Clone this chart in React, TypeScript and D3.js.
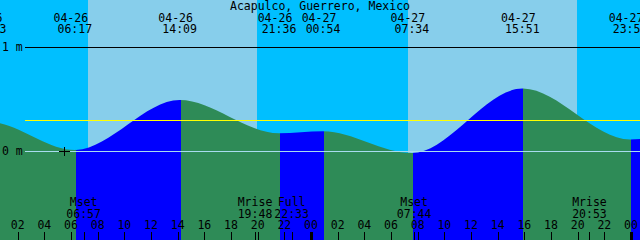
import React from "react";
import * as d3 from "d3";

const TITLE = "Acapulco, Guerrero, Mexico";

// Tide extremes: hours since 04-26 00:00, height in metres
const tideHours = [-6.6, -0.15, 6.283, 14.15, 21.6, 24.9, 31.567, 39.85, 47.93, 54.5];
const tideHeights = [0.1, 0.28, 0.01, 0.49, 0.17, 0.19, -0.02, 0.6, 0.11, 0.35];
const tideDates = ["04-25", "04-26", "04-26", "04-26", "04-26", "04-27", "04-27", "04-27", "04-27", "04-28"];
const tideTimes = ["17:24", "23:53", "06:17", "14:09", "21:36", "00:54", "07:34", "15:51", "23:56", "06:30"];

// Sun: sunrise / sunset hours
const sunriseHours = [7.27, 31.27];
const sunsetHours = [19.97, 43.98];

// Moon events
const moonHours = [6.95, 19.8, 22.55, 31.733, 44.883];
const moonNames = ["Mset", "Mrise", "Full", "Mset", "Mrise"];
const moonTimes = ["06:57", "19:48", "22:33", "07:44", "20:53"];

const hourTicks = d3.range(2, 49, 2);
const meterMarks = [0, 1];
const MSL = 0.3;
const nowHour = 5.45;

const W = 640;
const H = 240;
const FONT = "'DejaVu Sans Mono', 'Liberation Mono', monospace";
const FS = 11.5;

const DAY = "#87ceeb";
const NIGHT = "#00bfff";
const FLOOD = "#0000ff";
const EBB = "#2e8b57";

export default function App() {
  const x = d3.scaleLinear().domain([0, 48]).range([-9, 631]);
  const y = d3.scaleLinear().domain([0, 1]).range([151, 47]);

  const pts = tideHours.map((t, i) => [t, tideHeights[i]] as [number, number]);
  const area = d3
    .area<[number, number]>()
    .x((d) => x(d[0]))
    .y0(H)
    .y1((d) => y(d[1]))
    .curve(d3.curveMonotoneX);
  const areaPath = area(pts) || "";

  // night intervals
  const nights: [number, number][] = [
    [-100, sunriseHours[0]],
    [sunsetHours[0], sunriseHours[1]],
    [sunsetHours[1], 100],
  ];

  // rising / falling intervals
  const segs = tideHours.slice(0, -1).map((t, i) => ({
    a: t,
    b: tideHours[i + 1],
    rising: tideHeights[i + 1] > tideHeights[i],
  }));
  const px = (t: number) => Math.round(x(t)) + 1;

  const lineX0 = 25;

  return (
    <svg
      width={W}
      height={H}
      style={{ position: "fixed", left: 0, top: 0, display: "block" }}
      fontFamily={FONT}
      fontSize={FS}
    >
      <defs>
        <clipPath id="flood">
          {segs
            .filter((s) => s.rising)
            .map((s, i) => (
              <rect key={i} x={px(s.a)} y={0} width={px(s.b) - px(s.a)} height={H} />
            ))}
        </clipPath>
        <clipPath id="ebb">
          {segs
            .filter((s) => !s.rising)
            .map((s, i) => (
              <rect key={i} x={px(s.a)} y={0} width={px(s.b) - px(s.a)} height={H} />
            ))}
        </clipPath>
      </defs>

      {/* day background */}
      <rect x={0} y={0} width={W} height={H} fill={DAY} />
      {nights.map(([a, b], i) => {
        const xa = Math.max(0, Math.round(x(a)));
        const xb = Math.min(W, Math.round(x(b)));
        return <rect key={i} x={xa} y={0} width={Math.max(0, xb - xa)} height={H} fill={NIGHT} shapeRendering="crispEdges" />;
      })}

      {/* tide fill */}
      <path d={areaPath} fill={FLOOD} clipPath="url(#flood)" />
      <path d={areaPath} fill={EBB} clipPath="url(#ebb)" />

      {/* metre lines */}
      <line x1={lineX0} x2={W} y1={Math.round(y(1)) + 0.5} y2={Math.round(y(1)) + 0.5} stroke="#000" strokeWidth={1} />
      <line x1={lineX0} x2={W} y1={Math.round(y(0)) + 0.5} y2={Math.round(y(0)) + 0.5} stroke="#a8dcef" strokeWidth={1} />
      <line x1={lineX0} x2={W} y1={Math.round(y(MSL)) + 0.5} y2={Math.round(y(MSL)) + 0.5} stroke="#ffff00" strokeWidth={1} />
      {meterMarks.map((m) => (
        <text key={m} x={2} y={y(m) + 4} fill="#000">
          {`${m} m`}
        </text>
      ))}

      {/* now marker */}
      <g stroke="#000" strokeWidth={1}>
        <line x1={Math.round(x(nowHour)) - 5} x2={Math.round(x(nowHour)) + 6} y1={Math.round(y(0)) + 0.5} y2={Math.round(y(0)) + 0.5} />
        <line x1={Math.round(x(nowHour)) + 0.5} x2={Math.round(x(nowHour)) + 0.5} y1={Math.round(y(0)) - 4} y2={Math.round(y(0)) + 5} />
      </g>

      {/* title */}
      <text x={W / 2} y={10} textAnchor="middle" fill="#000">
        {TITLE}
      </text>

      {/* tide labels */}
      {tideHours.map((t, i) => {
        const cx = x(t);
        if (cx < -40 || cx > W + 40) return null;
        return (
          <g key={i} fill="#000" textAnchor="middle">
            <text x={cx - 4} y={22}>
              {tideDates[i]}
            </text>
            <text x={cx} y={33}>
              {tideTimes[i]}
            </text>
          </g>
        );
      })}

      {/* moon labels */}
      {moonHours.map((t, i) => (
        <g key={i} fill="#000" textAnchor="middle">
          <text x={x(t)} y={206}>
            {moonNames[i]}
          </text>
          <text x={x(t)} y={218}>
            {moonTimes[i]}
          </text>
          <line x1={Math.round(x(t)) + 0.5} x2={Math.round(x(t)) + 0.5} y1={232} y2={H} stroke="#000" />
        </g>
      ))}

      {/* hour ticks */}
      {hourTicks.map((t) => {
        const cx = x(t);
        const day = t % 24 === 0;
        return (
          <g key={t} fill="#000">
            <text x={cx} y={229} textAnchor="middle">
              {d3.format("02d")(t % 24)}
            </text>
            {day ? (
              <rect x={Math.round(cx) - 1} y={232} width={3} height={H - 232} fill="#000" />
            ) : (
              <line x1={Math.round(cx) + 0.5} x2={Math.round(cx) + 0.5} y1={232} y2={H} stroke="#000" />
            )}
          </g>
        );
      })}
    </svg>
  );
}
